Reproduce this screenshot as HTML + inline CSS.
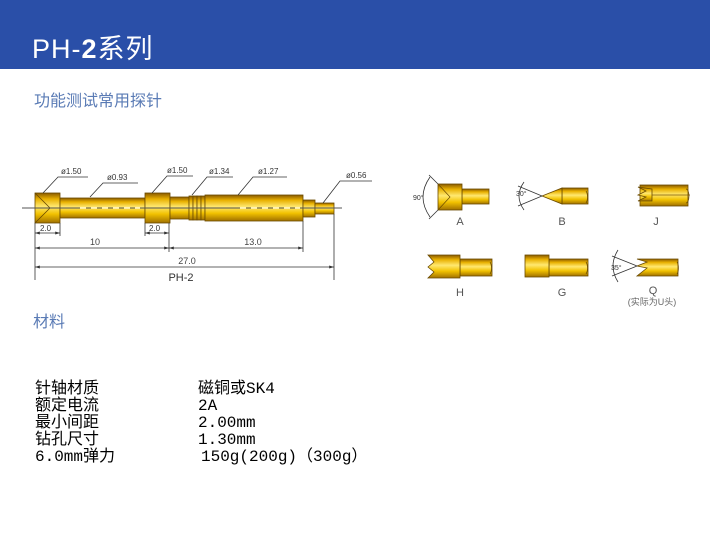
<!DOCTYPE html>
<html><head><meta charset="utf-8"><style>
html,body{margin:0;padding:0;background:#fff;}
body{width:710px;height:550px;position:relative;overflow:hidden;font-family:"Liberation Sans","Noto Sans CJK SC",sans-serif;}
.hdr{position:absolute;left:0;top:0;width:710px;height:69px;background:#2a4fa8;}
.title{position:absolute;left:32px;top:33px;color:#fff;font-size:27px;line-height:32px;letter-spacing:1px;}
.sub{position:absolute;left:34px;top:87px;color:#5a7bb5;font-size:16px;}
.mat{position:absolute;left:33px;top:308px;color:#5a7bb5;font-size:16px;}
.spec{position:absolute;top:381px;font-family:"Liberation Mono","Noto Sans CJK SC",monospace;font-size:16px;line-height:17px;color:#000;white-space:pre;}
svg{position:absolute;left:0;top:0;}
svg text{font-family:"Liberation Sans","Noto Sans CJK SC",sans-serif;}
</style></head><body>
<div class="hdr"></div>
<div class="title">PH-<b>2</b>系列</div>
<div class="sub">功能测试常用探针</div>
<div class="mat">材料</div>
<div class="spec" style="left:35px">针轴材质
额定电流
最小间距
钻孔尺寸
6.0mm弹力</div>
<div class="spec" style="left:198px">磁铜或SK4
2A
2.00mm
1.30mm
<span style="margin-left:3px">150g(200g)（300g）</span></div>
<svg width="710" height="550" viewBox="0 0 710 550">
<defs>
<linearGradient id="g" x1="0" y1="0" x2="0" y2="1">
<stop offset="0" stop-color="#8a5a00"/><stop offset="0.2" stop-color="#e8b000"/><stop offset="0.45" stop-color="#ffe870"/><stop offset="0.7" stop-color="#f2c200"/><stop offset="1" stop-color="#a07000"/>
</linearGradient>
<marker id="ar" viewBox="0 0 10 10" refX="10" refY="5" markerWidth="6" markerHeight="6" orient="auto-start-reverse"><path d="M0,2L10,5L0,8z" fill="#333"/></marker>
</defs>
<g stroke="#6a4a00" stroke-width="0.8" fill="url(#g)">
<rect x="35" y="193" width="25" height="30"/>
<rect x="60" y="198" width="85" height="20"/>
<rect x="145" y="193" width="25" height="30"/>
<rect x="170" y="197" width="19" height="22"/>
<rect x="189" y="196" width="4" height="24"/><rect x="193" y="196" width="4" height="24"/><rect x="197" y="196" width="4" height="24"/><rect x="201" y="196" width="4" height="24"/>
<rect x="205" y="195" width="98" height="26"/>
<rect x="303" y="200" width="12" height="17"/>
<rect x="315" y="203" width="19" height="11"/>
</g>
<path d="M35,193L50,208L35,223" fill="none" stroke="#6a4a00" stroke-width="0.8"/>
<line x1="22" y1="208" x2="342" y2="208" stroke="#555" stroke-width="1"/>
<line x1="240" y1="208" x2="300" y2="208" stroke="#fff" stroke-width="1" stroke-dasharray="6,5"/>
<line x1="80" y1="208" x2="140" y2="208" stroke="#fff" stroke-width="1" stroke-dasharray="6,5"/>
<g stroke="#333" stroke-width="0.8" fill="none">
<polyline points="43,193 58,177 88,177"/><polyline points="90,197 103,183 138,183"/>
<polyline points="152,193 167,176 193,176"/><polyline points="192,195 207,177 233,177"/>
<polyline points="238,195 253,177 287,177"/><polyline points="323,203 340,181 372,181"/>
<line x1="35" y1="223" x2="35" y2="280"/><line x1="60" y1="223" x2="60" y2="236"/>
<line x1="145" y1="223" x2="145" y2="236"/><line x1="169" y1="223" x2="169" y2="252"/>
<line x1="303" y1="221" x2="303" y2="252"/><line x1="334" y1="214" x2="334" y2="280"/>
<line x1="35" y1="233" x2="60" y2="233" marker-start="url(#ar)" marker-end="url(#ar)"/>
<line x1="145" y1="233" x2="169" y2="233" marker-start="url(#ar)" marker-end="url(#ar)"/>
<line x1="35" y1="248" x2="169" y2="248" marker-start="url(#ar)" marker-end="url(#ar)"/>
<line x1="169" y1="248" x2="303" y2="248" marker-start="url(#ar)" marker-end="url(#ar)"/>
<line x1="35" y1="267" x2="334" y2="267" marker-start="url(#ar)" marker-end="url(#ar)"/>
</g>
<g font-size="8" fill="#333">
<text x="61" y="174">ø1.50</text><text x="107" y="180">ø0.93</text>
<text x="167" y="173">ø1.50</text><text x="209" y="174">ø1.34</text>
<text x="258" y="174">ø1.27</text><text x="346" y="178">ø0.56</text>
<text x="40" y="231">2.0</text><text x="149" y="231">2.0</text>
</g>
<g font-size="9" fill="#444" text-anchor="middle">
<text x="95" y="245">10</text><text x="253" y="245">13.0</text><text x="187" y="264">27.0</text>
</g>
<text x="181" y="281" font-size="11" fill="#333" text-anchor="middle">PH-2</text>
<g stroke="#6a4a00" stroke-width="0.8" fill="url(#g)">
<rect x="462" y="189" width="27" height="15"/><rect x="438" y="184" width="24" height="26"/>
<rect x="562" y="188" width="26" height="16"/><path d="M542,196L562,188L562,204Z"/>
<rect x="640" y="185" width="48" height="21"/>
<path d="M652,189L638,187L646,191L638,195L646,197L638,201L652,201Z"/>
<rect x="460" y="259" width="32" height="17"/><path d="M428,255L460,255L460,278L428,278L434,272L428,267L434,262Z"/>
<rect x="549" y="259" width="39" height="17"/><rect x="525" y="255" width="24" height="22"/>
<path d="M637,259L678,259L678,276L637,276L647,268L637,266L647,262Z"/>
</g>
<g stroke="#6a4a00" stroke-width="0.7" fill="none">
<path d="M438,184L450,197L438,210"/>
<path d="M686,189 a3,7 0 0 1 0,14"/><path d="M586,191 a3,7 0 0 1 0,12"/>
<path d="M490,262 a3,7 0 0 1 0,12"/><path d="M586,262 a3,7 0 0 1 0,12"/><path d="M677,262 a3,7 0 0 1 0,12"/>
<path d="M652,195L690,195" stroke="#7a5500"/>
</g>
<g stroke="#333" stroke-width="0.8" fill="none">
<path d="M438,184L429,175M438,210L429,219"/><path d="M430,177 q-14,20 0,40"/>
<path d="M542,196L518,186M542,196L518,206"/><path d="M524,182 q-10,14 0,28"/>
<path d="M637,266L612,256M637,266L612,276"/><path d="M618,250 q-10,16 0,32"/>
</g>
<g font-size="7" fill="#333"><text x="413" y="200">90°</text><text x="516" y="196">30°</text><text x="611" y="270">35°</text></g>
<g font-size="11" fill="#555" text-anchor="middle">
<text x="460" y="225">A</text><text x="562" y="225">B</text><text x="656" y="225">J</text>
<text x="460" y="296">H</text><text x="562" y="296">G</text><text x="653" y="294">Q</text>
</g>
<text x="652" y="305" font-size="9" fill="#666" text-anchor="middle">(实际为U头)</text>
</svg>
</body></html>
